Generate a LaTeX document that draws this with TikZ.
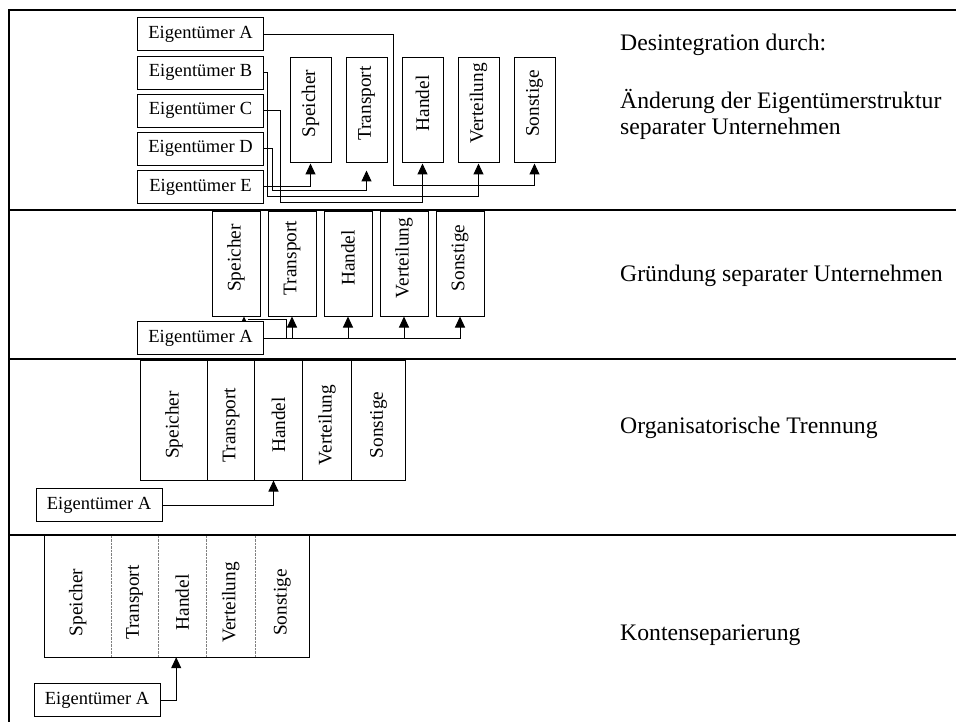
\documentclass[tikz,border=0pt]{standalone}
\usepackage{fontspec}
\setmainfont{Liberation Serif}
\usetikzlibrary{positioning,arrows.meta,calc,backgrounds}

\newcommand{\vlab}[2]{\raisebox{#1}[\height][\depth]{\rotatebox{90}{#2}}}

\tikzset{
	owner/.style={draw, line width=1pt, fill=white, minimum width=126pt, minimum height=33pt, inner sep=0pt, font=\fontsize{18.5}{20}\selectfont},
	part/.style={draw, line width=1pt, fill=white, inner sep=0pt, font=\fontsize{19.3}{21}\selectfont},
	cell/.style={inner sep=0pt, font=\fontsize{19.3}{21}\selectfont},
	arr/.style={line width=1pt, -{Triangle[length=11pt,width=10pt]}},
	link/.style={line width=1pt},
	sectxt/.style={anchor=base west, inner sep=0pt, font=\fontsize{23.7}{25}\selectfont},
}

\begin{document}
\begin{tikzpicture}[x=1pt,y=-1pt]
	\useasboundingbox (0,0) rectangle (956,722);
	% frame
	\draw[line width=1.2pt] (9,722) -- (9,10) -- (956,10);
	\foreach \y in {210,359,535}
	\draw[line width=1.2pt] (9,\y) -- (956,\y);

	% Desintegration: Eigentuemerstruktur
	\foreach \n/\y in {A/34.5, B/72.6, C/110.7, D/148.8, E/186.9}
	\node[owner] (o1\n) at (200.5,\y) {Eigentümer \n};
	\foreach \n [count=\i] in {Speicher,Transport,Handel,Verteilung,Sonstige}
	\node[part, minimum width=41pt, minimum height=105pt] (t1\i) at (254.5+56*\i,110.5) {\vlab{7pt}{\n}};
	\draw[arr] (o1A.east) -| (393,186) -| (t15.south);
	\draw[arr] (o1B.east) -| (267,197) -| (t14.south);
	\draw[arr] (o1C.east) -| (280,203) -| (t13.south);
	\draw[arr] (o1D.east) -| (272,191) -| ([yshift=-7pt]t12.south);
	\draw[arr] (o1E.east) -| (t11.south);

	% Gruendung
	\foreach \n [count=\i] in {Speicher,Transport,Handel,Verteilung,Sonstige}
	\node[part, minimum width=48pt, minimum height=104pt] (t2\i) at (180+56*\i,264) {\vlab{6pt}{\n}};
	\node[owner] (o2) at (200.5,338) {Eigentümer A};
	\begin{scope}[on background layer]
		\draw[arr] (o2.east) -| (t25.south);
		\foreach \i in {2,3,4}
		\draw[arr] (t2\i.south |- o2.east) -- (t2\i.south);
		\draw[link] ($(t22.south |- o2.east)+(-6,0)$) |- ($(t21.south)+(12,3)$);
		\draw[arr] ($(t21.south)+(8,14)$) -- ($(t21.south)+(8,0)$);
	\end{scope}

	% Organisatorische Trennung
	\foreach \n/\l/\w [count=\i] in {Speicher/140/67, Transport/207/47, Handel/254/48, Verteilung/302/49, Sonstige/351/54}
	\node[cell, draw, line width=1pt, minimum width=\w pt, minimum height=120pt, anchor=west] (t3\i) at (\l,420) {\vlab{-5pt}{\n}};
	\node[owner] (o3) at (99,505) {Eigentümer A};
	\draw[arr] (o3.east) -| ($(t33.south)+(-5,0)$);

	% Kontenseparierung
	\foreach \n/\l/\w [count=\i] in {Speicher/44/67, Transport/111/47, Handel/158/48, Verteilung/206/49, Sonstige/255/54}
	\node[cell, minimum width=\w pt, minimum height=121pt, anchor=west] (t4\i) at (\l,596.5) {\vlab{-6pt}{\n}};
	\draw[line width=1pt] (t41.north west) rectangle (t45.south east);
	\foreach \i in {1,...,4}
	\draw[densely dotted, gray] (t4\i.north east) -- (t4\i.south east);
	\node[owner] (o4) at (97,700) {Eigentümer A};
	\draw[arr] (o4.east) -| ($(t43.south)+(-6,0)$);

	% Beschriftung
	\node[sectxt] (d1) at (620,51) {Desintegration durch:};
	\node[sectxt] (d2) at (620,109) {Änderung der Eigentümerstruktur};
	\node[sectxt] (d3) at (620,135) {separater Unternehmen};
	\node[sectxt] (d4) at (620,281) {Gründung separater Unternehmen};
	\node[sectxt] (d5) at (620,433) {Organisatorische Trennung};
	\node[sectxt] (d6) at (620,640) {Kontenseparierung};
\end{tikzpicture}
\end{document}
